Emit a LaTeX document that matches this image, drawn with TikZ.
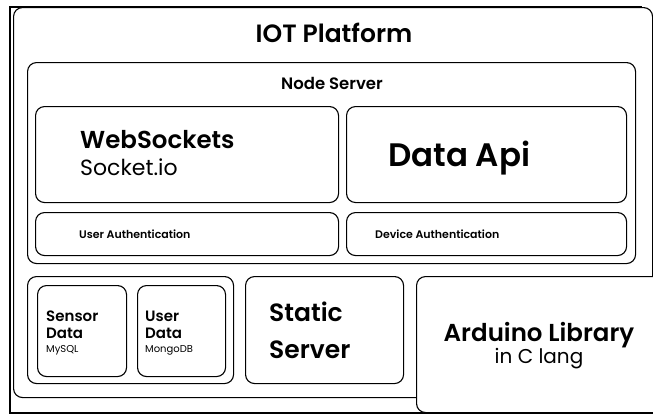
\documentclass[tikz,border=0pt]{standalone}
\usepackage{fontspec}
\setmainfont{Poppins}[BoldFont={Poppins SemiBold}]
\usetikzlibrary{positioning}
\tikzset{
  panel/.style={draw, rounded corners=9pt, line width=1.1pt, fill=white,
                anchor=north west, inner sep=0pt},
  frame/.style={draw, line width=2pt},
  caption/.style={anchor=base west, inner sep=0pt},
}

\begin{document}
\begin{tikzpicture}[x=1pt, y=-1pt]
  \useasboundingbox (0,0) rectangle (653,415);
  % outer frame and platform
  \draw[frame] (660,413) -| (10,7) -- (642,7);
  \node[panel, minimum width=639pt, minimum height=390pt] (iot) at (13,7) {};
  \node[panel, minimum width=608pt, minimum height=201pt] (srv) at (27,62) {};
  % node server parts
  \node[panel, minimum width=303pt, minimum height=96pt] (ws) at (35,106) {};
  \node[panel, minimum width=280pt, minimum height=96pt] (api) at (346,106) {};
  \node[panel, minimum width=303pt, minimum height=43pt] (uauth) at (35,212) {};
  \node[panel, minimum width=280pt, minimum height=43pt] (dauth) at (346,212) {};
  % storage and static
  \node[panel, minimum width=206pt, minimum height=107pt] (db) at (27,276) {};
  \node[panel, minimum width=89pt, minimum height=91pt] (sensor) at (37,285) {};
  \node[panel, minimum width=88pt, minimum height=91pt] (udata) at (137,285) {};
  \node[panel, minimum width=158pt, minimum height=107pt] (static) at (245,276) {};
  \node[panel, minimum width=260pt, minimum height=136pt] (ard) at (416,276) {};
  % texts
  \node[anchor=base, inner sep=0pt, font=\bfseries\fontsize{25}{30}\selectfont] (tiot) at (334,42) {IOT Platform};
  \node[anchor=base, inner sep=0pt, font=\bfseries\fontsize{16.5}{19}\selectfont] (tsrv) at (332,89) {Node Server};
  \node[caption, font=\bfseries\fontsize{24.5}{28}\selectfont] (tws) at (80,148) {WebSockets};
  \node[caption, font=\fontsize{22}{25}\selectfont] (tsock) at (80,175) {Socket.io};
  \node[caption, font=\bfseries\fontsize{32.5}{38}\selectfont] (tapi) at (388,166) {Data Api};
  \node[caption, font=\bfseries\fontsize{11}{13}\selectfont] (tua) at (79,238) {User Authentication};
  \node[caption, font=\bfseries\fontsize{11}{13}\selectfont] (tda) at (375,238) {Device Authentication};
  \node[caption, font=\bfseries\fontsize{15}{18}\selectfont] (ts1) at (46,321) {Sensor};
  \node[caption, font=\bfseries\fontsize{15}{18}\selectfont] (ts2) at (46,338) {Data};
  \node[caption, font=\fontsize{10}{11}\selectfont] (ts3) at (46,352) {MySQL};
  \node[caption, font=\bfseries\fontsize{15}{18}\selectfont] (tu1) at (145,321) {User};
  \node[caption, font=\bfseries\fontsize{15}{18}\selectfont] (tu2) at (145,338) {Data};
  \node[caption, font=\fontsize{10}{11}\selectfont] (tu3) at (145,352) {MongoDB};
  \node[caption, font=\bfseries\fontsize{25}{30}\selectfont] (tst1) at (269,321) {Static};
  \node[caption, font=\bfseries\fontsize{25}{30}\selectfont] (tst2) at (269,358) {Server};
  \node[anchor=base, inner sep=0pt, font=\bfseries\fontsize{24.5}{28}\selectfont] (tard) at (539,341) {Arduino Library};
  \node[anchor=base, inner sep=0pt, font=\fontsize{20}{23}\selectfont] (tlang) at (539,363) {in C lang};
\end{tikzpicture}
\end{document}
